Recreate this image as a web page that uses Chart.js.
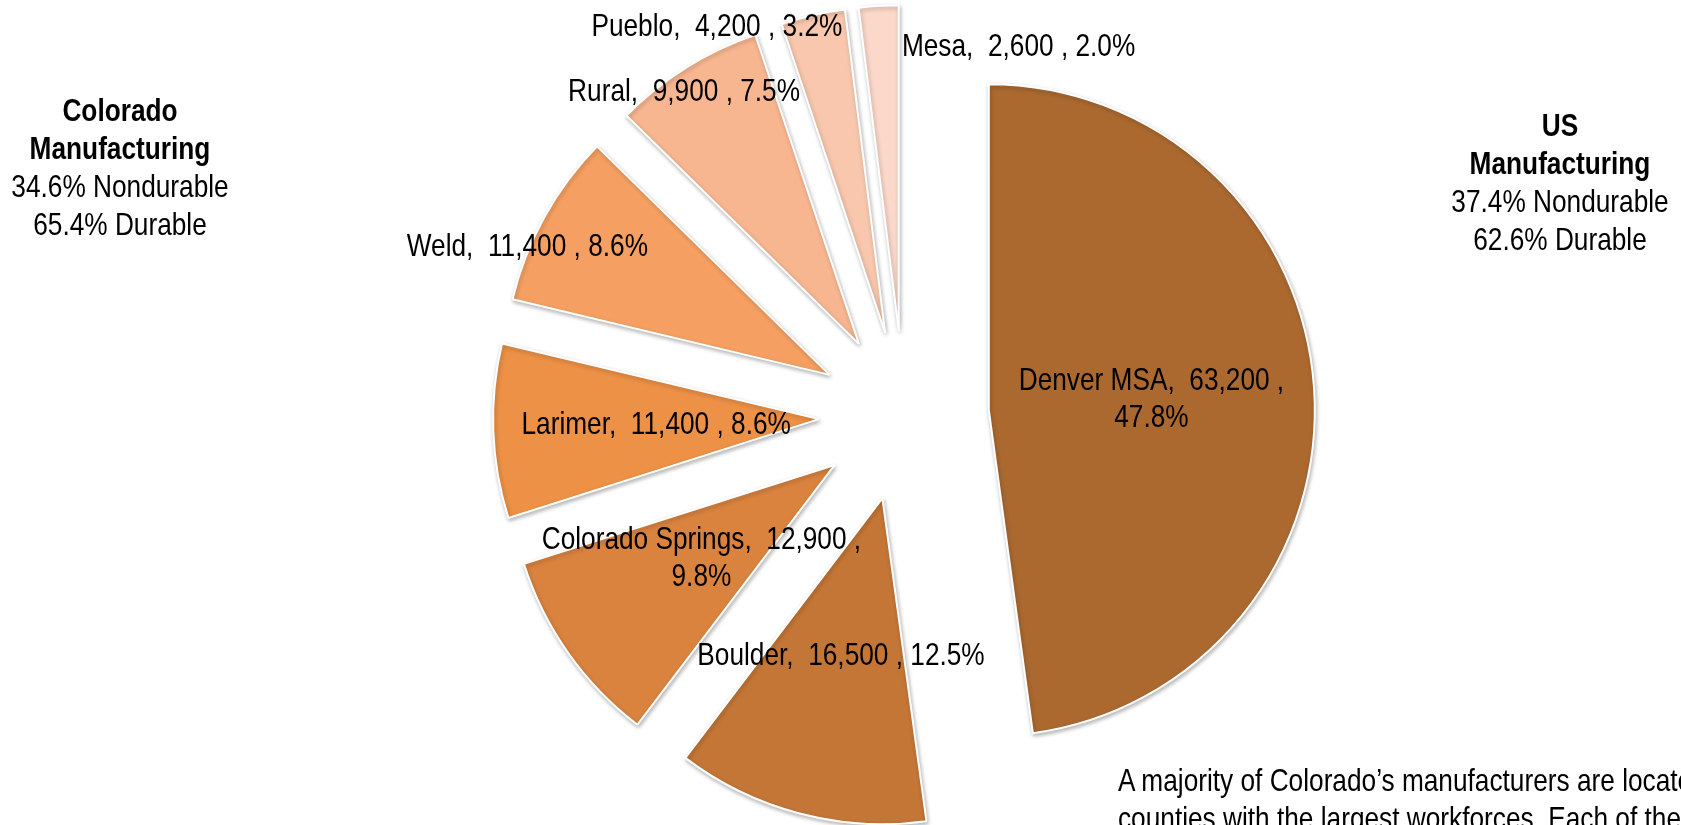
<!DOCTYPE html>
<html>
<head>
<meta charset="utf-8">
<title>Colorado manufacturing employment by region</title>
<script src="https://cdn.jsdelivr.net/npm/chart.js@4.4.0/dist/chart.umd.min.js"></script>
<style>
  html, body { margin: 0; padding: 0; background: #fff; }
  body {
    width: 1681px; height: 825px; position: relative; overflow: hidden;
    font-family: "Liberation Sans Narrow", "Arial Narrow", "Liberation Sans", sans-serif;
    color: #000;
  }
  #wrap { position: absolute; left: 0; top: 0; width: 1681px; height: 825px; }
  .note {
    position: absolute; width: 300px; font-size: 32px; line-height: 38px;
    text-align: center; white-space: nowrap;
    transform: scaleX(0.82); transform-origin: 50% 0;
  }
  #co { left: -30px; top: 91px; }
  #us { left: 1410px; top: 106px; }
  #para {
    position: absolute; left: 1118px; top: 761px; font-size: 32px;
    line-height: 38px; white-space: nowrap;
    transform: scaleX(0.82); transform-origin: 0 0;
  }
</style>
</head>
<body>
<div id="wrap"><canvas id="pie"></canvas></div>

<div class="note" id="co"><b>Colorado</b><br><b>Manufacturing</b><br>34.6% Nondurable<br>65.4% Durable</div>
<div class="note" id="us"><b>US</b><br><b>Manufacturing</b><br>37.4% Nondurable<br>62.6% Durable</div>
<div id="para">A majority of Colorado’s manufacturers are located in the<br>counties with the largest workforces. Each of these</div>

<script>
// data
const regions = ['Denver MSA', 'Boulder', 'Colorado Springs', 'Larimer', 'Weld', 'Rural', 'Pueblo', 'Mesa'];
const workers = [63200, 16500, 12900, 11400, 11400, 9900, 4200, 2600];
const sliceColors = ['#ab6930', '#c47636', '#da833f', '#ec9146', '#f5a062', '#f8b690', '#f9c7ad', '#fbd8ca'];

// look
const PIE_RADIUS = 326;
const SLICE_SHIFT = 85;     // how far every slice is pulled out from the centre
const LABEL_FONT = '32px "Liberation Sans", Arial, sans-serif';
const NARROW = 0.82;        // squeeze to get an Arial Narrow look
const labelDepth = [0.5, 0.5, 0.5, 0.5, 1, 1, 1, 1];   // share of radius where label sits
const labelNudge = [[0, 0], [0, 0], [0, 0], [0, 0], [-17, 30], [-2, 25], [-96, 12], [140, 41]];
const labelWrap = [true, false, true, false, false, false, false, false];

// explode the slices: draw each arc element moved out along its middle angle
// (the built-in offset also changes radius and sweep, so it is not used)
const explode = {
  id: 'explode',
  beforeDatasetDraw(chart, args) {
    const ctx = chart.ctx;
    ctx.save();
    ctx.shadowColor = 'rgba(0,0,0,0.28)';
    ctx.shadowBlur = 4;
    ctx.shadowOffsetX = 1;
    ctx.shadowOffsetY = 2;
    args.meta.data.forEach(arc => {
      const mid = (arc.startAngle + arc.endAngle) / 2;
      ctx.save();
      ctx.translate(Math.cos(mid) * SLICE_SHIFT, Math.sin(mid) * SLICE_SHIFT);
      arc.draw(ctx);
      ctx.restore();
    });
    ctx.restore();
    return false;
  }
};

const sliceLabels = {
  id: 'sliceLabels',
  afterDatasetsDraw(chart) {
    const ctx = chart.ctx;
    const meta = chart.getDatasetMeta(0);
    const total = workers.reduce((a, b) => a + b, 0);
    ctx.save();
    ctx.font = LABEL_FONT;
    ctx.fillStyle = '#000';
    ctx.textAlign = 'center';
    ctx.textBaseline = 'middle';
    meta.data.forEach((arc, i) => {
      const mid = (arc.startAngle + arc.endAngle) / 2;
      const dist = SLICE_SHIFT + labelDepth[i] * PIE_RADIUS;
      const x = arc.x + Math.cos(mid) * dist + labelNudge[i][0];
      const y = arc.y + Math.sin(mid) * dist + labelNudge[i][1];
      const pct = (workers[i] / total * 100).toFixed(1) + '%';
      const head = regions[i] + ',  ' + workers[i].toLocaleString('en-US') + ' ,';
      const lines = labelWrap[i] ? [head, pct] : [head + ' ' + pct];
      ctx.save();
      ctx.translate(x, y);
      ctx.scale(NARROW, 1);
      lines.forEach((t, k) => ctx.fillText(t, 0, (k - (lines.length - 1) / 2) * 37));
      ctx.restore();
    });
    ctx.restore();
  }
};

new Chart(document.getElementById('pie'), {
  type: 'pie',
  data: {
    labels: regions,
    datasets: [{
      data: workers,
      backgroundColor: sliceColors,
      borderColor: '#ffffff',
      borderWidth: 2,
      hoverOffset: 0
    }]
  },
  options: {
    responsive: true,
    maintainAspectRatio: false,
    animation: false,
    events: [],
    radius: PIE_RADIUS,
    layout: { padding: { left: 127, right: 0, top: 7, bottom: 0 } },
    plugins: {
      legend: { display: false },
      tooltip: { enabled: false }
    }
  },
  plugins: [explode, sliceLabels]
});
</script>
</body>
</html>
